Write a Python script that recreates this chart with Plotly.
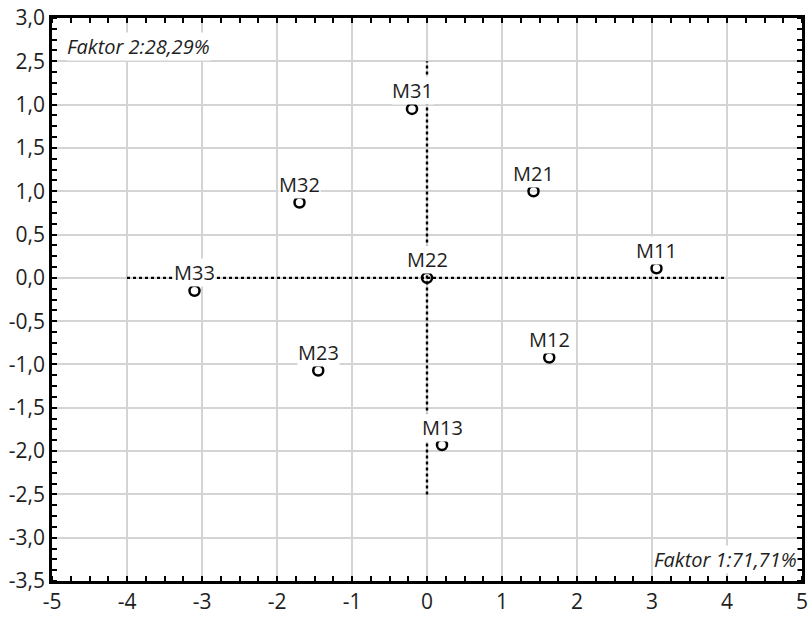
import plotly.graph_objects as go

labels = ["M31", "M32", "M21", "M11", "M33", "M22", "M23", "M12", "M13"]
fx = [-0.20, -1.70, 1.42, 3.06, -3.10, 0.00, -1.45, 1.63, 0.20]
fy = [1.95, 0.87, 1.00, 0.11, -0.15, 0.00, -1.07, -0.92, -1.93]

ytick_vals = [3.0, 2.5, 2.0, 1.5, 1.0, 0.5, 0.0, -0.5, -1.0, -1.5, -2.0, -2.5, -3.0, -3.5]
ytick_text = ["3,0", "2,5", "1,0", "1,5", "1,0", "0,5", "0,0", "-0,5", "-1,0", "-1,5", "-2,0", "-2,5", "-3,0", "-3,5"]
xtick_vals = [-5, -4, -3, -2, -1, 0, 1, 2, 3, 4, 5]
xtick_text = ["-5", "-4", "-3", "-2", "-1", "0", "1", "2", "3", "4", "5"]

hline_x = [-4, 4]
hline_y = [0, 0]
vline_x = [0, 0]
vline_y = [-2.5, 2.5]

font = "Open Sans"
txt = "#1e1e1e"

fig = go.Figure()
fig.add_trace(go.Scatter(x=hline_x, y=hline_y, mode="lines",
                         line=dict(color="black", width=2.4, dash="dot"), showlegend=False))
fig.add_trace(go.Scatter(x=vline_x, y=vline_y, mode="lines",
                         line=dict(color="black", width=2.4, dash="dot"), showlegend=False))
fig.add_trace(go.Scatter(x=fx, y=fy, mode="markers",
                         marker=dict(symbol="circle-open", size=10, color="black",
                                     line=dict(width=2.5, color="black")),
                         showlegend=False))

for lab, x, y in zip(labels, fx, fy):
    fig.add_annotation(x=x, y=y, text=lab, showarrow=False, yshift=18,
                       bgcolor="white", borderpad=0,
                       font=dict(family=font, size=20, color=txt))

fig.add_annotation(xref="paper", yref="paper", x=0.018, y=0.975, xanchor="left", yanchor="top",
                   text="<i>Faktor 2:28,29%</i>", showarrow=False, bgcolor="white", borderpad=0,
                   font=dict(family=font, size=20, color=txt))
fig.add_annotation(xref="paper", yref="paper", x=0.995, y=0.012, xanchor="right", yanchor="bottom",
                   text="<i>Faktor 1:71,71%</i>", showarrow=False, bgcolor="white", borderpad=0,
                   font=dict(family=font, size=20, color=txt))

axis_common = dict(showline=True, linecolor="black", linewidth=2.5, mirror="ticks",
                   ticks="", ticklabeloverflow="allow",
                   showgrid=True, gridcolor="#d4d4d4", gridwidth=1.5, zeroline=False,
                   tickfont=dict(family=font, size=21, color=txt))

fig.update_xaxes(range=[-5, 5], tickvals=xtick_vals, ticktext=xtick_text,
                 minor=dict(dtick=0.25, ticks="inside", ticklen=5, tickwidth=2.2,
                            tickcolor="black", showgrid=False),
                 **axis_common)
fig.update_yaxes(range=[-3.5, 3.0], tickvals=ytick_vals, ticktext=ytick_text,
                 minor=dict(dtick=0.125, ticks="inside", ticklen=5, tickwidth=2.2,
                            tickcolor="black", showgrid=False),
                 **axis_common)

fig.update_layout(width=811, height=618, margin=dict(l=52, r=3, t=18, b=32),
                  plot_bgcolor="white", paper_bgcolor="white",
                  font=dict(family=font))

fig.write_html("out.html")
